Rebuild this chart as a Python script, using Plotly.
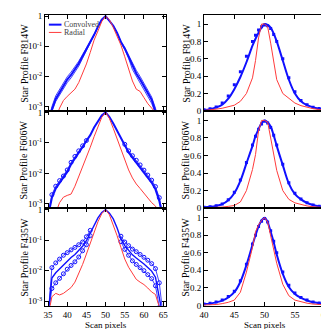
import plotly.graph_objects as go
from plotly.subplots import make_subplots

FILTERS = ["F814W", "F606W", "F435W"]

# log panels (left column): scan pixel grid
X_LOG = [35, 36, 37, 38, 39, 40, 41, 42, 43, 44, 45, 46, 47, 48, 49, 50,
         51, 52, 53, 54, 55, 56, 57, 58, 59, 60, 61, 62, 63, 64, 65]

CONV_F814W = [0.00025, 0.0008, 0.0018, 0.003, 0.005, 0.0079, 0.0112, 0.017, 0.027, 0.047,
              0.079, 0.135, 0.24, 0.45, 0.76, 1.0, 0.71, 0.48, 0.28, 0.14, 0.085, 0.045,
              0.021, 0.0126, 0.0079, 0.0047, 0.0028, 0.0017, 0.0007, 0.00025, 0.0001]
CONV_HI_F814W = [0.0003, 0.001, 0.0023, 0.0038, 0.0063, 0.0098, 0.014, 0.021, 0.032, 0.053,
                 0.085, 0.14, 0.24, 0.45, 0.76, 1.0, 0.71, 0.48, 0.28, 0.145, 0.09, 0.05,
                 0.026, 0.016, 0.01, 0.006, 0.0035, 0.0021, 0.0009, 0.0003, 0.0001]
CONV_LO_F814W = [0.0002, 0.0007, 0.0015, 0.0024, 0.004, 0.0063, 0.009, 0.0135, 0.022, 0.04,
                 0.072, 0.13, 0.23, 0.44, 0.76, 1.0, 0.71, 0.47, 0.27, 0.13, 0.078, 0.04,
                 0.017, 0.01, 0.0063, 0.0037, 0.0022, 0.0013, 0.0006, 0.0002, 0.0001]
RAD_F814W = [0.00016, 0.00025, 0.0004, 0.0009, 0.0016, 0.0022, 0.0028, 0.0038, 0.0063, 0.0126,
             0.026, 0.063, 0.16, 0.32, 0.66, 1.0, 0.76, 0.42, 0.22, 0.11, 0.045, 0.018,
             0.0071, 0.0038, 0.0032, 0.002, 0.00126, 0.0009, 0.00063, 0.00032, 0.00016]

CONV_F606W = [0.0004, 0.0016, 0.0032, 0.0048, 0.0068, 0.0112, 0.02, 0.032, 0.049, 0.074,
              0.117, 0.18, 0.32, 0.52, 0.79, 1.0, 0.71, 0.43, 0.25, 0.14, 0.083, 0.049,
              0.033, 0.023, 0.016, 0.0107, 0.0074, 0.005, 0.003, 0.00126, 0.00032]
CONV_HI_F606W = [0.0005, 0.002, 0.0038, 0.0058, 0.0082, 0.013, 0.023, 0.036, 0.055, 0.08,
                 0.12, None, None, None, None, None, None, None, None, None, 0.09, 0.055,
                 0.038, 0.027, 0.019, 0.0128, 0.0088, 0.006, 0.0037, 0.0016, 0.0004]
RAD_F606W = [0.00025, 0.00035, 0.0005, 0.0011, 0.00166, 0.0019, 0.0021, 0.0038, 0.0079, 0.015,
             0.032, 0.072, 0.16, 0.35, 0.69, 1.0, 0.63, 0.3, 0.132, 0.059, 0.025, 0.013,
             0.0071, 0.0045, 0.0032, 0.0022, 0.0015, 0.0011, 0.00085, 0.0005, 0.00025]

CONV_F435W = [0.00032, 0.0057, 0.0085, 0.0115, 0.016, 0.021, 0.027, 0.034, 0.045, 0.063,
              0.096, 0.17, 0.31, 0.54, 0.81, 1.0, 0.77, 0.5, 0.25, 0.11, 0.066, 0.046,
              0.033, 0.026, 0.02, 0.0165, 0.0128, 0.0097, 0.0061, 0.0016, 0.00028]
CONV_HI_F435W = [0.00032, 0.0126, 0.018, 0.024, 0.032, 0.039, 0.048, 0.058, 0.071, 0.087,
                 0.13, 0.21, None, None, None, None, None, None, None, 0.135, 0.087, 0.066,
                 0.051, 0.042, 0.034, 0.0275, 0.022, 0.017, 0.0117, 0.004, 0.00032]
CONV_LO_F435W = [0.00032, 0.0026, 0.004, 0.0056, 0.0079, 0.0112, 0.0148, 0.0195, 0.028, 0.045,
                 0.071, 0.14, None, None, None, None, None, None, None, 0.089, 0.05, 0.032,
                 0.021, 0.016, 0.0126, 0.01, 0.0074, 0.0055, 0.0032, 0.00063, 0.00025]
RAD_F435W = [0.00032, 0.0014, 0.0018, 0.0016, 0.0018, 0.0022, 0.0028, 0.0042, 0.0079, 0.016,
             0.035, 0.083, 0.19, 0.4, 0.74, 1.0, 0.68, 0.32, 0.14, 0.058, 0.024, 0.013,
             0.0079, 0.0052, 0.0042, 0.0035, 0.0027, 0.002, 0.00166, 0.00063, 0.00025]

# linear panels (right column)
X_LIN = [40, 41, 42, 43, 44, 45, 46, 47, 48, 48.5, 49, 49.5, 50, 50.5, 51, 51.5,
         52, 53, 54, 55, 56, 57, 58, 59, 60]

LIN_CONV_F814W = [0.01, 0.02, 0.04, 0.07, 0.14, 0.25, 0.39, 0.56, 0.75, 0.83, 0.9, 0.96, 1.0,
                  0.99, 0.96, 0.89, 0.8, 0.58, 0.36, 0.2, 0.11, 0.065, 0.04, 0.025, 0.015]
LIN_DOTS_F814W = [0.012, 0.025, 0.045, 0.09, 0.17, 0.3, 0.45, 0.63, 0.8, 0.87, 0.93, 0.97, 0.99,
                  0.98, 0.95, 0.88, 0.8, 0.6, 0.38, 0.22, 0.12, 0.07, 0.042, 0.026, 0.016]
LIN_RAD_F814W = [0.005, 0.01, 0.02, 0.03, 0.05, 0.065, 0.11, 0.2, 0.38, 0.58, 0.84, 1.0, 1.0,
                 0.97, 0.78, 0.58, 0.36, 0.2, 0.14, 0.09, 0.06, 0.04, 0.025, 0.015, 0.01]

LIN_CONV_F606W = [0.01, 0.015, 0.025, 0.045, 0.09, 0.17, 0.31, 0.51, 0.71, 0.82, 0.9, 0.97, 1.0,
                  0.98, 0.93, 0.83, 0.71, 0.49, 0.28, 0.16, 0.1, 0.06, 0.035, 0.02, 0.012]
LIN_DOTS_F606W = [0.01, 0.016, 0.027, 0.048, 0.095, 0.18, 0.32, 0.52, 0.72, 0.82, 0.9, 0.96, 0.99,
                  0.97, 0.92, 0.83, 0.72, 0.5, 0.29, 0.17, 0.105, 0.062, 0.037, 0.021, 0.013]
LIN_RAD_F606W = [0.003, 0.005, 0.008, 0.012, 0.02, 0.03, 0.07, 0.2, 0.44, 0.61, 0.88, 1.0, 1.0,
                 0.98, 0.8, 0.62, 0.43, 0.2, 0.1, 0.06, 0.04, 0.025, 0.015, 0.01, 0.006]

LIN_CONV_F435W = [0.015, 0.02, 0.035, 0.055, 0.09, 0.15, 0.27, 0.46, 0.69, 0.8, 0.9, 0.97, 1.0,
                  0.95, 0.84, 0.72, 0.58, 0.36, 0.21, 0.13, 0.085, 0.055, 0.035, 0.025, 0.018]
LIN_DOTS_F435W = [0.017, 0.024, 0.04, 0.06, 0.1, 0.16, 0.28, 0.47, 0.7, 0.8, 0.9, 0.96, 0.99,
                  0.95, 0.85, 0.73, 0.6, 0.38, 0.23, 0.14, 0.09, 0.06, 0.04, 0.028, 0.02]
LIN_RAD_F435W = [0.003, 0.005, 0.01, 0.02, 0.035, 0.06, 0.15, 0.38, 0.66, 0.84, 0.92, 0.97, 1.0,
                 0.95, 0.8, 0.66, 0.48, 0.24, 0.11, 0.06, 0.04, 0.025, 0.015, 0.01, 0.006]

LOG_TICKS = [1, 0.1, 0.01, 0.001]
LOG_TICKTEXT = ["1", "10<sup>-1</sup>", "10<sup>-2</sup>", "10<sup>-3</sup>"]
LIN_TICKS = [0, 0.2, 0.4, 0.6, 0.8, 1]
LIN_TICKTEXT = ["0", "0.2", "0.4", "0.6", "0.8", "1"]

_BLUE = "#1010ff"
_RED = "#ff3b3b"
_FONT = "Liberation Serif"

W = H = 329
ROWS_PX = [(3, 102), (102, 202), (202, 302)]  # top/bottom of each row, px from top
COLS_PX = [(33, 158), (197, 322)]

log_data = [
    (CONV_F814W, [CONV_HI_F814W, CONV_LO_F814W], RAD_F814W, False),
    (CONV_F606W, [CONV_HI_F606W], RAD_F606W, True),
    (CONV_F435W, [CONV_HI_F435W, CONV_LO_F435W], RAD_F435W, True),
]
lin_data = [
    (LIN_CONV_F814W, LIN_DOTS_F814W, LIN_RAD_F814W),
    (LIN_CONV_F606W, LIN_DOTS_F606W, LIN_RAD_F606W),
    (LIN_CONV_F435W, LIN_DOTS_F435W, LIN_RAD_F435W),
]

fig = make_subplots(rows=3, cols=2)

for r in range(3):
    conv, band, rad, circles = log_data[r]
    for b in band:
        fig.add_trace(go.Scatter(
            x=X_LOG, y=b, mode="lines+markers" if circles else "lines",
            line={"color": _BLUE, "width": 0.8},
            marker={"symbol": "circle-open", "size": 4, "color": _BLUE, "line": {"width": 1}},
            showlegend=False,
        ), row=r + 1, col=1)
    fig.add_trace(go.Scatter(
        x=X_LOG, y=conv, mode="lines", name="Convolved",
        line={"color": _BLUE, "width": 2 if r < 2 else 1.4}, showlegend=False,
    ), row=r + 1, col=1)
    fig.add_trace(go.Scatter(
        x=X_LOG, y=rad, mode="lines", name="Radial",
        line={"color": _RED, "width": 1}, showlegend=False,
    ), row=r + 1, col=1)

    lconv, ldots, lrad = lin_data[r]
    fig.add_trace(go.Scatter(
        x=X_LIN, y=ldots, mode="markers",
        marker={"symbol": "square", "size": 3, "color": _BLUE},
        showlegend=False,
    ), row=r + 1, col=2)
    fig.add_trace(go.Scatter(
        x=X_LIN, y=lconv, mode="lines", line={"color": _BLUE, "width": 2},
        line_shape="spline", showlegend=False,
    ), row=r + 1, col=2)
    fig.add_trace(go.Scatter(
        x=X_LIN, y=lrad, mode="lines", line={"color": _RED, "width": 1},
        showlegend=False,
    ), row=r + 1, col=2)

axis_common = dict(
    showline=True, linecolor="black", linewidth=1, mirror="allticks",
    ticks="inside", ticklen=4, tickcolor="black", showgrid=False,
    tickfont={"family": _FONT, "size": 9, "color": "black"},
)

for r in range(3):
    top, bot = ROWS_PX[r]
    ydom = [1 - bot / H, 1 - top / H]
    for c in range(2):
        left, right = COLS_PX[c]
        xdom = [left / W, right / W]
        if c == 0:
            fig.update_xaxes(domain=xdom, range=[34.2, 65.8], tickvals=[35, 40, 45, 50, 55, 60, 65],
                             showticklabels=(r == 2), zeroline=False, row=r + 1, col=1, **axis_common)
            fig.update_yaxes(domain=ydom, type="log", range=[-3.15, 0.04], tickvals=LOG_TICKS,
                             ticktext=LOG_TICKTEXT, zeroline=False, row=r + 1, col=1, **axis_common)
        else:
            fig.update_xaxes(domain=xdom, range=[40, 60], tickvals=[40, 45, 50, 55, 60],
                             showticklabels=(r == 2), zeroline=False, row=r + 1, col=2, **axis_common)
            fig.update_yaxes(domain=ydom, range=[-0.004, 1.105], tickvals=LIN_TICKS,
                             ticktext=LIN_TICKTEXT, zeroline=True, zerolinecolor=_BLUE,
                             zerolinewidth=2, row=r + 1, col=2, **axis_common)

annotations = []
for r, name in enumerate(FILTERS):
    top, bot = ROWS_PX[r]
    ymid = 1 - (top + bot) / 2 / H
    for xpx in (11, 178):
        annotations.append(dict(
            x=xpx / W, y=ymid, xref="paper", yref="paper", text=f"Star Profile {name}",
            textangle=-90, showarrow=False, xanchor="center", yanchor="middle",
            font={"family": _FONT, "size": 10, "color": "black"},
        ))
for c in range(2):
    left, right = COLS_PX[c]
    annotations.append(dict(
        x=(left + right) / 2 / W, y=1 - 322 / H, xref="paper", yref="paper",
        text="Scan pixels", showarrow=False, xanchor="center", yanchor="middle",
        borderpad=0, font={"family": _FONT, "size": 9, "color": "black"},
    ))

# legend key drawn inside the top-left panel
legend_items = [("Convolved", _BLUE, 2, 13), ("Radial", _RED, 1, 21)]
shapes = []
for label, color, width, ypx in legend_items:
    shapes.append(dict(type="line", xref="paper", yref="paper",
                       x0=37 / W, x1=50 / W, y0=1 - ypx / H, y1=1 - ypx / H,
                       line={"color": color, "width": width}))
    annotations.append(dict(
        x=52 / W, y=1 - ypx / H, xref="paper", yref="paper", text=label,
        showarrow=False, xanchor="left", yanchor="middle", borderpad=0,
        font={"family": _FONT, "size": 8, "color": "#444"},
    ))

fig.update_layout(
    width=W, height=H,
    margin={"l": 0, "r": 0, "t": 0, "b": 0},
    paper_bgcolor="white", plot_bgcolor="white",
    annotations=annotations, shapes=shapes,
    showlegend=False,
)

fig.write_html("out.html")
